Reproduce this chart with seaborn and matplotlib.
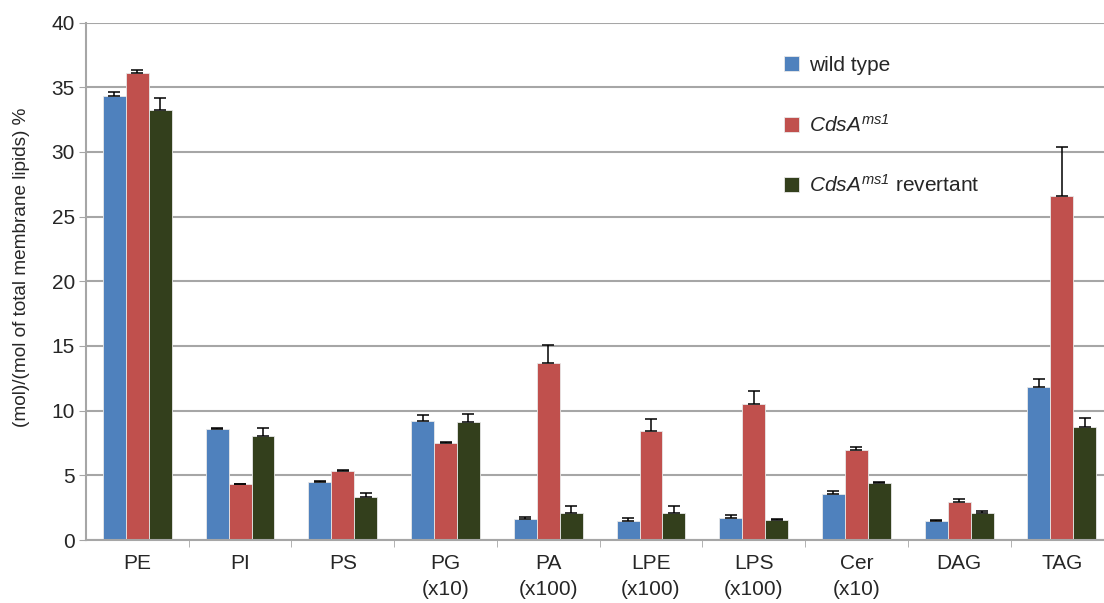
import matplotlib
matplotlib.use("Agg")
import matplotlib.pyplot as plt
import numpy as np
import pandas as pd
import seaborn as sns

# values
lipids = ["PE", "PI", "PS", "PG\n(x10)", "PA\n(x100)", "LPE\n(x100)",
          "LPS\n(x100)", "Cer\n(x10)", "DAG", "TAG"]
wild_type = [34.3, 8.57, 4.5, 9.19, 1.6, 1.45, 1.72, 3.59, 1.43, 11.84]
wild_type_err = [0.3, 0.1, 0.07, 0.5, 0.15, 0.23, 0.18, 0.23, 0.12, 0.64]
cdsa = [36.1, 4.3, 5.33, 7.46, 13.7, 8.45, 10.55, 6.93, 2.92, 26.6]
cdsa_err = [0.2, 0.05, 0.05, 0.13, 1.35, 0.9, 0.95, 0.23, 0.23, 3.8]
revertant = [33.2, 8.03, 3.35, 9.14, 2.05, 2.1, 1.56, 4.39, 2.1, 8.7]
revertant_err = [1.0, 0.6, 0.3, 0.6, 0.55, 0.5, 0.08, 0.07, 0.15, 0.74]

series = ["wild type", r"$\mathit{CdsA}^{\mathit{ms1}}$",
          r"$\mathit{CdsA}^{\mathit{ms1}}$ revertant"]
colors = ["#4f81bd", "#c0504d", "#333f1c"]

sns.set_style("white")
plt.rcParams["font.family"] = ["Liberation Sans", "DejaVu Sans"]
# math text is only used for the italic gene names, so digits go italic too
plt.rcParams["mathtext.fontset"] = "custom"
plt.rcParams["mathtext.rm"] = "Liberation Sans:italic"
plt.rcParams["mathtext.it"] = "Liberation Sans:italic"

df = pd.DataFrame({
    "lipid": lipids * 3,
    "value": wild_type + cdsa + revertant,
    "series": [s for s in series for _ in lipids],
})
errors = [wild_type_err, cdsa_err, revertant_err]

fig = plt.figure(figsize=(11.04, 6.03), dpi=100)
ax = fig.add_axes([86 / 1104, 63 / 603, 1 - 86 / 1104, 517.5 / 603])

sns.barplot(data=df, x="lipid", y="value", hue="series", palette=colors,
            width=0.67, errorbar=None, edgecolor="#e8e8e8", linewidth=0.6,
            saturation=1, ax=ax, zorder=2)

# one-sided error bars on top of each bar
for cont, err in zip(ax.containers, errors):
    xs = [p.get_x() + p.get_width() / 2 for p in cont]
    hs = [p.get_height() for p in cont]
    ax.errorbar(xs, hs, yerr=[np.zeros(len(err)), err], fmt="none",
                ecolor="black", elinewidth=1.1, capsize=4, capthick=1.1, zorder=3)

ax.set_ylim(0, 40)
ax.set_xlim(-0.5, 9.41)
ax.set_yticks(range(0, 41, 5))
ax.yaxis.grid(True, color="#a6a6a6", linewidth=1.5, zorder=0)
ax.set_axisbelow(True)

for side in ["top", "right"]:
    ax.spines[side].set_visible(False)
for side in ["left", "bottom"]:
    ax.spines[side].set_color("#a6a6a6")
    ax.spines[side].set_linewidth(1.5)

ax.tick_params(axis="y", length=5, color="#a6a6a6", labelsize=15, pad=3, left=True)
ax.tick_params(axis="x", which="major", length=0, labelsize=15, pad=10)
ax.set_xticks(np.arange(0.5, 9.5, 1), minor=True)
ax.tick_params(axis="x", which="minor", length=5, color="#a6a6a6", bottom=True)
for lbl in ax.get_xticklabels():
    lbl.set_linespacing(1.5)

ax.set_xlabel("")
ax.set_ylabel("(mol)/(mol of total membrane lipids) %", fontsize=13.7)
ax.yaxis.set_label_coords(-0.055, 0.526)

handles, labels = ax.get_legend_handles_labels()
ax.legend(handles, labels, loc="upper left", bbox_to_anchor=(784 / 1104, 1 - 56 / 603),
          bbox_transform=fig.transFigure, frameon=False, fontsize=15,
          borderaxespad=0, borderpad=0,
          handlelength=0.72, handleheight=0.72, handletextpad=0.5, labelspacing=1.85)

fig.savefig("out.png", dpi=100)
